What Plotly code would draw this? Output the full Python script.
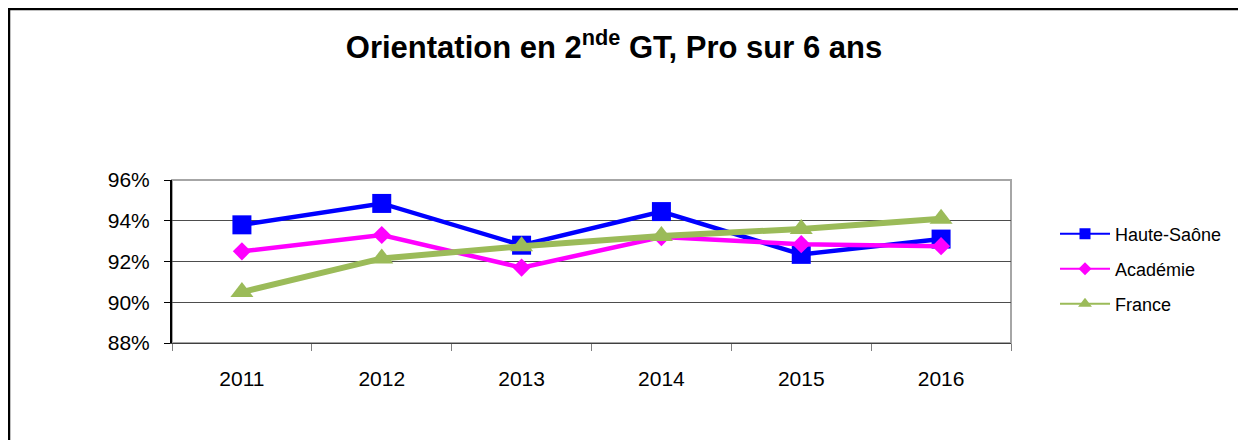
import plotly.graph_objects as go

YEARS = ["2011", "2012", "2013", "2014", "2015", "2016"]
HAUTE_SAONE = [93.8, 94.85, 92.8, 94.45, 92.35, 93.1]
ACADEMIE = [92.5, 93.3, 91.7, 93.2, 92.85, 92.75]
FRANCE = [90.5, 92.15, 92.75, 93.25, 93.6, 94.1]

Y_TICKS = [88, 90, 92, 94, 96]

BLUE = "#0000FF"
MAGENTA = "#FF00FF"
OLIVE = "#9BBB59"
INK = "#000000"
GRID = "#4D4D4D"
FRAME = "#A6A6A6"
FONT = "Arial, Liberation Sans, sans-serif"

# the page puts the figure 8px in from the top left corner,
# so the figure is laid out in page pixels minus that offset
OFF = 8
W, H = 1246 - OFF, 448 - 2 * OFF
L, R, T, B = 172 - OFF, 1011 - OFF, 180 - OFF, 343 - OFF


def px_x(x):
    return (x - OFF - L) / (R - L)


def px_y(y):
    return (B - (y - OFF)) / (B - T)


fig = go.Figure()

series = [
    ("Haute-Saône", HAUTE_SAONE, BLUE, "square", 19, 4.5, 11, "legend", 234),
    ("Académie", ACADEMIE, MAGENTA, "diamond", 14, 4.5, 10, "legend2", 269),
    ("France", FRANCE, OLIVE, "triangle-up", 20, 6, 12, "legend3", 304),
]

legends = {}
for name, values, color, symbol, size, width, leg_size, leg, ly in series:
    fig.add_trace(
        go.Scatter(
            x=YEARS,
            y=values,
            mode="lines+markers",
            name=name,
            showlegend=False,
            line=dict(color=color, width=width),
            marker=dict(symbol=symbol, size=size, color=color),
        )
    )
    # legend entry only: thinner line and smaller marker, as in the original
    fig.add_trace(
        go.Scatter(
            x=[None],
            y=[None],
            mode="lines+markers",
            name=name,
            legend=leg,
            line=dict(color=color, width=2),
            marker=dict(symbol=symbol, size=leg_size, color=color),
        )
    )
    legends[leg] = dict(
        x=px_x(1055),
        xanchor="left",
        y=px_y(ly),
        yanchor="middle",
        font=dict(family=FONT, size=18, color=INK),
        itemwidth=50,
        bgcolor="rgba(0,0,0,0)",
    )

fig.update_layout(
    width=W,
    height=H,
    margin=dict(l=L, r=W - R, t=T, b=H - B),
    paper_bgcolor="white",
    plot_bgcolor="white",
    font=dict(family=FONT, color=INK),
    showlegend=True,
    title=dict(
        text="<b>Orientation en 2<sup>nde</sup> GT, Pro sur 6 ans</b>",
        font=dict(family=FONT, size=31, color=INK),
        x=(614 - OFF) / W,
        xanchor="center",
        y=1 - (47 - OFF) / H,
        yanchor="middle",
    ),
    xaxis=dict(
        type="category",
        categoryarray=YEARS,
        range=[-0.5, len(YEARS) - 0.5],
        showgrid=False,
        showline=True,
        linecolor="#404040",
        linewidth=1,
        ticks="outside",
        tickson="boundaries",
        ticklen=7,
        tickcolor="#808080",
        tickfont=dict(family=FONT, size=21, color=INK),
        ticklabelstandoff=17,
        fixedrange=True,
    ),
    yaxis=dict(
        range=[88, 96],
        tickvals=Y_TICKS,
        ticktext=[f"{v}%" for v in Y_TICKS],
        showgrid=True,
        gridcolor=GRID,
        gridwidth=1,
        zeroline=False,
        showline=True,
        linecolor=INK,
        linewidth=2,
        ticks="outside",
        ticklen=6,
        tickcolor=INK,
        tickfont=dict(family=FONT, size=21, color=INK),
        ticklabelstandoff=10,
        fixedrange=True,
    ),
    **legends,
)

# plot area frame: grey top and right edges
fig.add_shape(
    type="rect", xref="paper", yref="paper", x0=0, x1=1, y0=0, y1=1,
    line=dict(color=FRAME, width=2), layer="below",
)
# outer chart border (bottom edge lies below the visible page)
fig.add_shape(
    type="rect", xref="paper", yref="paper",
    x0=px_x(OFF + 1), x1=px_x(1244), y0=px_y(470), y1=px_y(OFF + 1),
    line=dict(color=INK, width=2.5),
)

fig.write_html("out.html")
